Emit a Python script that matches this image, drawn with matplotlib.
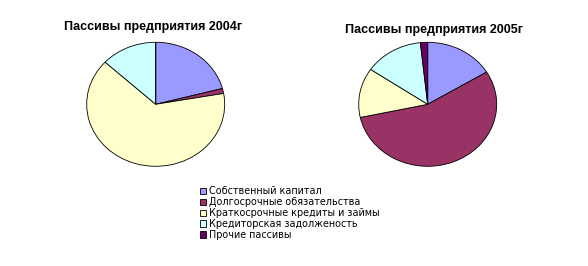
import matplotlib
matplotlib.use("Agg")
import matplotlib.pyplot as plt
from matplotlib.patches import Patch

plt.rcParams['font.family'] = ['Liberation Sans', 'DejaVu Sans']

categories = ["Собственный капитал", "Долгосрочные обязательства",
              "Краткосрочные кредиты и займы", "Кредиторская задолженость",
              "Прочие пассивы"]
values_2004 = [20.9, 1.3, 64.7, 13.1, 0.0]
values_2005 = [16.3, 55.3, 12.9, 13.8, 1.7]
titles = ["Пассивы предприятия 2004г", "Пассивы предприятия 2005г"]
colors = ["#9999FF", "#993366", "#FFFFCC", "#CCFFFF", "#660066"]

W, H = 588, 266
fig = plt.figure(figsize=(W / 100, H / 100), dpi=100)
fig.patch.set_facecolor("white")

rx, ry = 69, 62
centers = [(155.7, 104.3), (427.7, 104.3)]
title_pos = [(153, 27), (434, 30)]

for vals, (cx, cy), title, (tx, ty) in zip([values_2004, values_2005], centers, titles, title_pos):
    ax = fig.add_axes([(cx - rx) / W, (H - cy - ry) / H, 2 * rx / W, 2 * ry / H])
    ax.pie(vals, colors=colors, startangle=90, counterclock=False,
           wedgeprops=dict(edgecolor="black", linewidth=0.6))
    ax.set_aspect('auto')
    ax.set_xlim(-1.0, 1.0)
    ax.set_ylim(-1.0, 1.0)
    ax.axis('off')
    fig.text(tx / W, 1 - ty / H, title, ha='center', va='center',
             fontsize=9, fontweight='bold')

handles = [Patch(facecolor=c, edgecolor='black', linewidth=0.6) for c in colors]
leg = fig.legend(handles, categories, loc='upper left',
                 bbox_to_anchor=(200 / W, 1 - 186 / H), frameon=False,
                 prop=dict(family='DejaVu Sans', size=6.9),
                 handlelength=0.6, handleheight=0.6,
                 handletextpad=0.35, labelspacing=0.1, borderpad=0, borderaxespad=0)

fig.savefig("out.png", dpi=100)
